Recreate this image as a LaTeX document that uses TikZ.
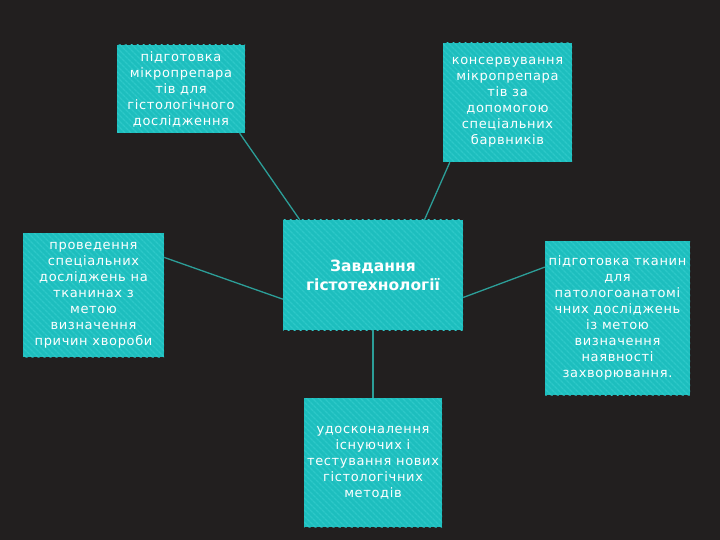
\documentclass[tikz,border=0pt]{standalone}
\usepackage{fontspec}
\setmainfont{DejaVu Sans}
\usetikzlibrary{patterns.meta}
\definecolor{bgdark}{RGB}{34,31,31}
\definecolor{tealbox}{RGB}{29,190,190}
\definecolor{tealstripe}{RGB}{45,200,200}
\definecolor{tealline}{RGB}{44,158,152}
\tikzset{bx/.style={fill=tealbox, inner sep=0pt, align=center, text=white,
  font=\addfontfeature{LetterSpace=5}\fontsize{13}{16}\selectfont,
  postaction={pattern={Lines[angle=-45, distance=4pt, line width=1.4pt]}, pattern color=tealstripe}}}
\tikzset{ttl/.style={font=\bfseries\fontsize{15.5}{19}\selectfont}}
\tikzset{cn/.style={tealline, line width=1.3pt}}

\begin{document}
\begin{tikzpicture}[x=1pt,y=-1pt]
  \fill[bgdark] (0,0) rectangle (720,540);
  \node[bx, ttl, minimum width=180pt, minimum height=110pt] (task) at (373,275)
    {Завдання\\ гістотехнології};
  \node[bx, minimum width=128pt, minimum height=88pt] (prep) at (181,89)
    {підготовка\\ мікропрепара\\ тів для\\ гістологічного\\ дослідження};
  \node[bx, minimum width=129pt, minimum height=119pt] (keep) at (507.5,102.5)
    {консервування\\ мікропрепара\\ тів за\\ допомогою\\ спеціальних\\ барвників};
  \node[bx, minimum width=141pt, minimum height=124pt] (cause) at (93.5,295)
    {проведення\\ спеціальних\\ досліджень на\\ тканинах з\\ метою\\ визначення\\ причин хвороби};
  \node[bx, minimum width=145pt, minimum height=154pt] (tissue) at (617.5,318)
    {підготовка тканин\\ для\\ патологоанатомі\\ чних досліджень\\ із метою\\ визначення\\ наявності\\ захворювання.};
  \node[bx, minimum width=138pt, minimum height=129pt] (method) at (373,462.5)
    {удосконалення\\ існуючих і\\ тестування нових\\ гістологічних\\ методів};
  % connectors
  \draw[cn] (task.143) -- (prep.-37);
  \draw[cn] (task.47) -- (keep.226);
  \draw[cn] (task.195) -- (cause.28);
  \draw[cn] (task.-14) -- (tissue.145);
  \draw[cn] (task.south) -- (method.north);
\end{tikzpicture}
\end{document}
